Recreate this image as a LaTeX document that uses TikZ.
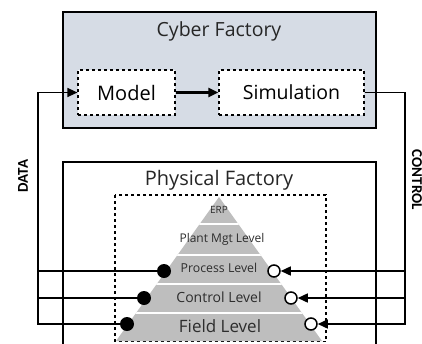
\documentclass[tikz,border=0pt]{standalone}
\usepackage{fontspec}
\setmainfont{Open Sans}
\newfontfamily\labelfont{Carlito}
\usetikzlibrary{arrows.meta,positioning}
\definecolor{cyberfill}{RGB}{214,220,229}
\definecolor{levelgray}{RGB}{190,190,190}
\definecolor{leveltext}{RGB}{45,45,45}
\begin{document}
\begin{tikzpicture}[x=1pt,y=-1pt,>={Triangle[length=10pt,width=9pt]},
factorybox/.style={draw,line width=1.8pt},
dashbox/.style={draw,dashed,line width=1.2pt,fill=white,minimum height=45pt,inner sep=0pt},
leveltxt/.style={text=leveltext,inner sep=0pt},
datadot/.style={circle,fill=black,minimum size=14pt,inner sep=0pt},
ctrlcirc/.style={circle,draw,line width=1.5pt,fill=white,minimum size=12pt,inner sep=0pt},
link/.style={line width=1.4pt}]
\useasboundingbox (0,0) rectangle (422,343);
% cyber factory
\draw[factorybox,fill=cyberfill] (63,12) rectangle (376,128);
\node[text=black!85] (cyber) at (219,31) {\fontsize{19.5}{22}\selectfont Cyber Factory};
\node[dashbox,minimum width=97pt] (model) at (126.5,92.5) {\fontsize{20}{22}\selectfont Model};
\node[dashbox,minimum width=145pt] (sim) at (291.5,92.5) {\fontsize{19.5}{22}\selectfont Simulation};
\draw[->,line width=2.2pt] (model) -- (sim);
% physical factory
\draw[factorybox] (63,162) rectangle (376,360);
\node[text=black!85] (phys) at (219,180) {\fontsize{20}{22}\selectfont Physical Factory};
\draw[dashed,line width=1.2pt] (115,195) rectangle (326,341.5);
% pyramid
\begin{scope}
\clip (219,197) -- (322,341) -- (116,341) -- cycle;
\fill[levelgray] (100,190) rectangle (340,345);
\foreach \sepy in {223.5,254.5,283.5,312.5}
  \draw[white,line width=2pt] (100,\sepy) -- (340,\sepy);
\end{scope}
\node[leveltxt] (erp) at (219,209.5) {\fontsize{10}{11}\selectfont ERP};
\node[leveltxt] (plant) at (222,239) {\fontsize{12}{14}\selectfont Plant Mgt Level};
\node[leveltxt] (process) at (219,268) {\fontsize{12.3}{14}\selectfont Process Level};
\node[leveltxt] (control) at (219,297.5) {\fontsize{14}{16}\selectfont Control Level};
\node[leveltxt] (field) at (220,326) {\fontsize{17}{19}\selectfont Field Level};
% data and control points
\node[datadot] (pdot) at (164,271) {};
\node[datadot] (cdot) at (144,298) {};
\node[datadot] (fdot) at (127,324) {};
\node[ctrlcirc] (pcirc) at (274,271) {};
\node[ctrlcirc] (ccirc) at (291,298) {};
\node[ctrlcirc] (fcirc) at (311,324) {};
\coordinate (dataline) at (38,0);
\coordinate (ctrlline) at (405,0);
% connectors
\draw[link,->] (fdot) -- (fdot -| dataline) |- (model.west);
\draw[link] (pdot) -- (pdot -| dataline);
\draw[link] (cdot) -- (cdot -| dataline);
\draw[link,->] (sim.east) -| (ctrlline |- fcirc) -- (fcirc);
\draw[link,->] (ctrlline |- pcirc) -- (pcirc);
\draw[link,->] (ctrlline |- ccirc) -- (ccirc);
\node[rotate=90] (datalbl) at (23,176) {\labelfont\bfseries\fontsize{15}{17}\selectfont DATA};
\node[rotate=-90] (ctrllbl) at (417,180) {\labelfont\bfseries\fontsize{15}{17}\selectfont CONTROL};
\end{tikzpicture}
\end{document}
